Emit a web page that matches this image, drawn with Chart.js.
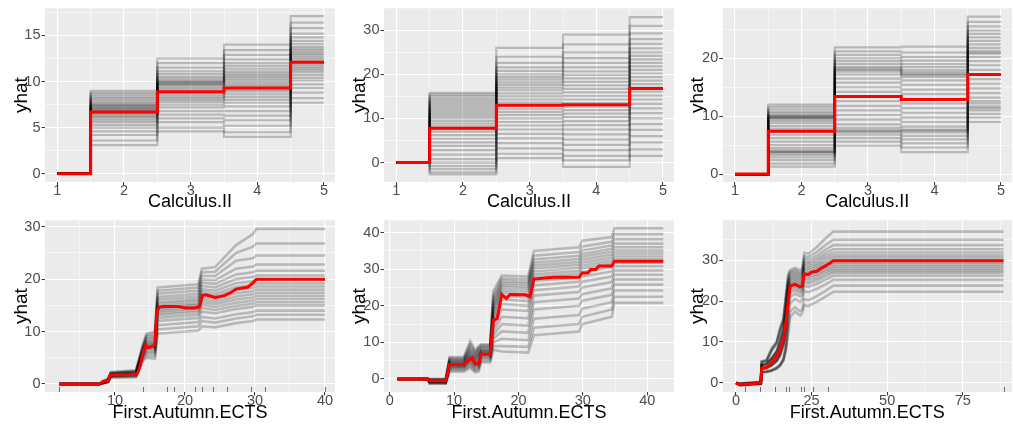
<!DOCTYPE html>
<html>
<head>
<meta charset="utf-8">
<script src="https://cdn.jsdelivr.net/npm/chart.js"></script>
<style>
  html, body { margin: 0; padding: 0; background: #ffffff; }
  #wrap { position: relative; width: 1013px; height: 428px; overflow: hidden; }
  #wrap canvas { position: absolute; }
</style>
</head>
<body>
<div id="wrap">
  <canvas id="c1" width="338" height="212" style="left:0px;top:0px"></canvas>
  <canvas id="c2" width="338" height="212" style="left:338px;top:0px"></canvas>
  <canvas id="c3" width="337" height="212" style="left:676px;top:0px"></canvas>
  <canvas id="c4" width="338" height="216" style="left:0px;top:212px"></canvas>
  <canvas id="c5" width="338" height="216" style="left:338px;top:212px"></canvas>
  <canvas id="c6" width="337" height="216" style="left:676px;top:212px"></canvas>
</div>
<script>
// ---- top row: Calculus.II (levels 1..5), one row of ICE values per level ----
const calcX = [1, 2, 3, 4, 5];
const calcXMajor = [1, 2, 3, 4, 5];
const calcXMinor = [1.5, 2.5, 3.5, 4.5];

const calcRowsA = [
  [0,0,0,0,0,0,0,0,0,0,0,0,0,0,0,0,0,0,0,0,0,0,0,0,0,0,0,0,0,0],
  [3.1,3.6,4.2,4.6,5.0,5.3,5.6,5.8,6.0,6.2,6.3,6.5,6.6,6.7,6.8,6.9,7.0,7.1,7.2,7.3,7.4,7.5,7.6,7.8,8.0,8.2,8.4,8.6,8.8,9.0],
  [4.6,5.0,5.6,6.0,6.4,6.8,7.2,7.5,7.8,8.0,8.2,8.4,8.6,8.8,9.0,9.2,9.4,9.6,9.7,9.8,9.9,10.0,10.1,10.3,10.5,10.8,11.1,11.5,12.0,12.5],
  [4.0,4.5,5.2,5.8,6.3,6.8,7.3,7.7,8.0,8.3,8.6,8.9,9.1,9.3,9.5,9.7,9.9,10.1,10.3,10.5,10.7,10.9,11.1,11.4,11.7,12.0,12.4,12.9,13.4,14.0],
  [7.7,8.2,8.8,9.3,9.7,10.1,10.4,10.7,11.0,11.2,11.4,11.6,11.8,12.0,12.2,12.4,12.6,12.8,13.0,13.2,13.4,13.6,13.8,14.1,14.4,14.8,15.2,15.8,16.4,17.1]
];
const calcMeanA = [0, 6.7, 8.9, 9.3, 12.1];
const calcYMajorA = [0, 5, 10, 15];
const calcYMinorA = [2.5, 7.5, 12.5, 17.5];

const calcRowsB = [
  [0,0,0,0,0,0,0,0,0,0,0,0,0,0,0,0,0,0,0,0,0,0,0,0,0,0,0,0,0,0],
  [-2.7,-2.2,-1.5,-0.8,0.0,0.8,1.8,2.8,3.8,4.6,5.4,6.2,7.0,7.6,8.2,8.8,9.4,10.0,10.5,11.0,11.5,12.0,12.5,13.0,13.5,14.0,14.5,15.0,15.4,15.8],
  [1.0,2.0,3.2,4.4,5.5,6.5,7.5,8.4,9.2,10.0,10.8,11.5,12.2,12.9,13.6,14.3,15.0,15.7,16.4,17.0,17.6,18.2,18.8,19.4,20.0,20.8,21.6,22.6,24.0,26.0],
  [-1.0,0.5,1.5,2.8,4.0,5.2,6.4,7.5,8.5,9.4,10.3,11.1,11.9,12.7,13.5,14.3,15.1,15.9,16.7,17.5,18.3,19.1,19.9,20.7,21.6,22.6,23.7,25.0,26.8,29.0],
  [1.5,3.0,4.6,6.0,7.4,8.7,10.0,11.2,12.3,13.3,14.3,15.2,16.1,17.0,17.8,18.6,19.4,20.2,21.0,21.8,22.6,23.4,24.2,25.0,25.9,26.9,28.0,29.3,31.0,33.0]
];
const calcMeanB = [0, 7.8, 13.0, 13.1, 16.8];
const calcYMajorB = [0, 10, 20, 30];
const calcYMinorB = [5, 15, 25];

const calcRowsC = [
  [0,0,0,0,0,0,0,0,0,0,0,0,0,0,0,0,0,0,0,0,0,0,0,0,0,0,0,0,0,0],
  [1.3,1.8,2.4,2.9,3.3,3.6,3.8,3.9,4.1,4.5,5.0,5.6,6.2,6.8,7.3,7.8,8.3,8.8,9.2,9.5,9.7,9.8,9.9,10.0,10.2,10.5,10.8,11.2,11.6,12.0],
  [4.9,5.6,6.2,6.8,7.2,7.4,7.6,8.0,8.6,9.4,10.2,11.0,11.8,12.6,13.4,14.2,15.0,15.8,16.5,17.2,17.7,18.0,18.2,18.5,19.0,19.5,20.0,20.6,21.2,21.9],
  [3.8,4.6,5.3,6.0,6.6,7.2,7.5,7.7,8.2,9.0,9.8,10.6,11.4,12.2,13.0,13.8,14.6,15.4,16.2,16.8,17.1,17.3,17.6,18.0,18.5,19.0,19.6,20.2,21.0,22.0],
  [9.0,9.8,10.4,11.0,11.4,11.7,12.2,12.6,13.2,14.0,14.8,15.6,16.4,17.2,18.0,18.8,19.5,20.2,20.8,21.0,21.3,21.8,22.4,23.0,23.6,24.2,24.8,25.5,26.3,27.2]
];
const calcMeanC = [0, 7.4, 13.4, 12.9, 17.2];
const calcYMajorC = [0, 10, 20];
const calcYMinorC = [5, 15, 25];

// ---- bottom row: First.Autumn.ECTS ----
const ectsGridA = [2, 7.8, 9.0, 9.4, 13.0, 14.0, 14.5, 15.7, 16.1, 21.9, 22.4, 24.3, 27.3, 29.7, 30.2, 40];
const ectsRowsA = [
  [0,0,0,0,0,0,0,0,0,0,0,0,0,0,0,0,0,0],
  [0,0,0,0,0,0,0,0,0,0,0,0,0,0,0,0,0,0],
  [0.3,0.3,0.4,0.4,0.5,0.5,0.5,0.6,0.6,0.6,0.7,0.7,0.7,0.8,0.8,0.9,0.9,1.0],
  [1.2,1.3,1.4,1.5,1.5,1.6,1.6,1.7,1.7,1.8,1.8,1.9,1.9,2.0,2.0,2.1,2.2,2.3],
  [1.3,1.4,1.5,1.6,1.7,1.8,1.8,1.9,1.9,2.0,2.0,2.1,2.1,2.2,2.3,2.4,2.5,2.6],
  [4.4,4.7,5.0,5.2,5.4,5.6,5.7,5.9,6.0,6.1,6.3,6.5,6.6,6.8,7.0,7.2,7.4,7.6],
  [5.0,5.4,5.8,6.1,6.4,6.7,6.9,7.1,7.3,7.5,7.7,7.9,8.1,8.4,8.7,9.0,9.3,9.6],
  [4.8,5.3,5.8,6.2,6.5,6.8,7.0,7.2,7.4,7.6,7.8,8.0,8.3,8.6,8.9,9.2,9.6,10.0],
  [9.6,10.4,11.2,12.0,12.6,13.1,13.5,13.9,14.2,14.5,14.8,15.2,15.6,16.1,16.6,17.2,17.8,18.4],
  [10.2,11.0,11.8,12.6,13.2,13.7,14.1,14.5,14.8,15.1,15.4,15.8,16.2,16.7,17.2,17.8,18.4,19.0],
  [11.0,12.0,12.8,13.8,14.5,15.1,15.6,16.1,16.6,17.1,17.6,18.1,18.7,19.3,19.9,20.6,21.3,22.0],
  [10.8,11.7,12.5,13.5,14.1,14.7,15.2,15.7,16.2,16.7,17.2,17.8,18.4,19.1,19.8,20.6,21.4,22.3],
  [11.6,12.5,13.3,14.3,14.9,15.5,16.1,16.7,17.3,17.9,18.5,19.2,20.0,20.9,22.0,23.5,25.0,26.5],
  [12.0,12.9,13.7,14.7,15.3,15.9,16.5,17.1,17.7,18.3,18.9,19.6,20.4,21.3,22.4,24.0,26.2,28.6],
  [12.3,13.2,14.0,15.0,15.6,16.2,16.8,17.4,18.0,18.6,19.2,19.9,20.7,21.6,22.8,24.5,26.8,29.6],
  [12.3,13.2,14.0,15.0,15.6,16.2,16.8,17.4,18.0,18.6,19.2,19.9,20.7,21.6,22.8,24.5,26.8,29.6]
];
const ectsMeanXA = [2, 7.8, 8.3, 9.0, 9.3, 12.8, 13.2, 13.6, 14.0, 14.4, 14.7, 15.4, 15.7, 16.0, 16.3, 17.0, 19.0, 20.0, 21.5, 22.1, 22.5, 23.0, 24.3, 25.5, 26.5, 27.3, 29.0, 29.7, 30.2, 40];
const ectsMeanA = [0, 0, 0.5, 0.6, 1.7, 1.8, 2.0, 3.5, 5.9, 7.4, 6.9, 7.2, 7.5, 13.7, 14.7, 14.8, 14.8, 14.5, 14.5, 14.8, 16.9, 17.0, 16.5, 16.8, 17.4, 18.1, 18.5, 19.3, 20.0, 20.0];
const ectsRugA = [2, 14, 17.5, 18.5, 21.5, 22.5, 24, 26, 29.5, 31.5, 40];
const ectsXMajorA = [10, 20, 30, 40];
const ectsXMinorA = [5, 15, 25, 35];
const ectsYMajorA = [0, 10, 20, 30];
const ectsYMinorA = [5, 15, 25];

const ectsGridB = [1.2, 5.9, 6.2, 8.7, 9.3, 11.5, 12.5, 13.3, 13.8, 14.2, 15.6, 16.1, 17.4, 21.5, 22.4, 29.4, 29.9, 34.5, 34.9, 42.5];
const ectsRowsB = [
  [0,0,0,0,0,0,0,0,0,0,0,0,0,0,0,0,0,0],
  [0,0,0,0,0,0,0,0,0,0,0,0,0,0,0,0,0,0],
  [-1.3,-1.2,-1.1,-1.0,-0.9,-0.8,-0.8,-0.7,-0.6,-0.5,-0.5,-0.4,-0.3,-0.3,-0.2,-0.1,0,0],
  [-1.3,-1.2,-1.1,-1.0,-0.9,-0.8,-0.8,-0.7,-0.6,-0.5,-0.5,-0.4,-0.3,-0.3,-0.2,-0.1,0,0],
  [2.0,2.4,2.7,3.0,3.2,3.4,3.6,3.8,4.0,4.2,4.4,4.6,4.8,5.0,5.2,5.4,5.7,6.0],
  [2.0,2.4,2.7,3.0,3.2,3.4,3.6,3.8,4.0,4.2,4.4,4.6,4.8,5.0,5.2,5.4,5.7,6.0],
  [3.0,3.5,4.0,4.4,4.8,5.1,5.4,5.7,6.0,6.3,6.6,7.0,7.4,7.8,8.3,8.9,9.6,10.4],
  [1.8,2.2,2.6,3.0,3.4,3.7,4.0,4.3,4.6,4.9,5.2,5.5,5.8,6.1,6.5,6.9,7.3,7.8],
  [2.0,2.5,3.0,3.4,3.8,4.2,4.6,5.0,5.4,5.8,6.2,6.6,7.0,7.4,7.8,8.2,8.6,9.0],
  [4.5,5.0,5.4,5.8,6.1,6.4,6.7,7.0,7.2,7.4,7.6,7.8,8.0,8.3,8.6,8.9,9.2,9.5],
  [4.5,5.0,5.4,5.8,6.1,6.4,6.7,7.0,7.2,7.4,7.6,7.8,8.0,8.3,8.6,8.9,9.2,9.5],
  [8.0,9.0,10.0,11.0,12.0,13.0,14.0,15.0,16.0,17.0,18.0,18.8,19.6,20.4,21.2,22.0,23.0,24.0],
  [7.5,9.0,11.0,13.0,15.0,17.0,19.0,20.5,21.8,22.8,23.6,24.3,25.0,25.6,26.2,26.8,27.5,28.3],
  [7.2,8.8,10.6,12.6,14.6,16.6,18.6,20.0,21.3,22.3,23.2,24.0,24.7,25.3,25.9,26.5,27.2,28.0],
  [12.0,14.0,16.5,19.0,21.0,22.8,24.3,25.6,26.8,27.8,28.6,29.4,30.2,31.0,31.8,32.7,33.7,35.0],
  [13.0,15.0,17.5,20.0,22.0,23.8,25.3,26.6,27.8,28.8,29.6,30.4,31.2,32.0,32.8,33.7,34.7,36.0],
  [15.0,17.0,19.2,21.4,23.2,25.0,26.6,28.0,29.2,30.2,31.0,31.8,32.6,33.4,34.2,35.1,36.2,37.8],
  [17.0,19.0,21.0,23.0,24.8,26.5,28.0,29.4,30.6,31.6,32.4,33.2,34.0,34.8,35.6,36.5,37.5,38.8],
  [20.8,22.5,24.2,25.8,27.2,28.5,29.7,30.8,31.8,32.7,33.5,34.3,35.1,36.0,37.0,38.2,39.6,41.2],
  [20.8,22.5,24.2,25.8,27.2,28.5,29.7,30.8,31.8,32.7,33.5,34.3,35.1,36.0,37.0,38.2,39.6,41.2]
];
const ectsMeanXB = [1.2, 5.9, 6.2, 8.7, 9.3, 11.5, 12.5, 12.8, 13.3, 13.8, 14.2, 15.6, 16.1, 16.7, 17.4, 18.1, 18.7, 21.1, 21.8, 22.4, 25.5, 29.4, 29.9, 30.8, 31.2, 32.0, 32.5, 34.5, 34.9, 42.5];
const ectsMeanB = [0, 0, -0.5, -0.5, 4.0, 4.0, 5.4, 5.8, 4.1, 4.1, 6.8, 6.8, 16.1, 16.5, 23.1, 22.0, 23.1, 23.0, 22.5, 27.3, 27.8, 27.8, 29.0, 29.0, 29.9, 29.9, 30.9, 30.9, 32.2, 32.2];
const ectsXMajorB = [0, 10, 20, 30, 40];
const ectsXMinorB = [5, 15, 25, 35];
const ectsYMajorB = [0, 10, 20, 30, 40];
const ectsYMinorB = [5, 15, 25, 35];

const ectsGridC = [0, 1.3, 8.2, 8.5, 10.1, 11.8, 13.5, 14.6, 15.7, 16.5, 17.3, 17.9, 19.5, 21.2, 21.9, 22.6, 23.9, 26.7, 29.4, 32.2, 88.5];
const ectsRowsC = [
  [0,0,0,0,0,0,0,0,0,0,0,0,0,0,0,0,0,0],
  [-0.6,-0.6,-0.5,-0.5,-0.5,-0.4,-0.4,-0.4,-0.4,-0.4,-0.3,-0.3,-0.3,-0.3,-0.2,-0.2,-0.2,-0.1],
  [-0.3,-0.2,-0.2,-0.1,-0.1,0,0,0,0,0,0,0,0.1,0.1,0.1,0.2,0.2,0.3],
  [2.6,2.6,2.7,2.7,3.4,3.4,3.5,3.5,3.6,4.2,4.3,4.3,4.4,4.4,5.0,5.1,5.2,5.3],
  [2.7,2.7,2.8,2.8,3.6,3.6,3.7,3.7,3.8,4.5,4.6,4.6,4.7,4.7,5.3,5.4,5.5,5.6],
  [3.0,3.0,3.1,3.1,4.3,4.3,4.4,4.4,4.5,5.8,5.9,5.9,6.0,6.1,7.8,8.0,8.2,8.5],
  [3.5,3.6,3.7,3.8,5.3,5.4,5.5,5.6,5.7,7.5,7.6,7.7,7.8,7.9,9.6,9.8,10.0,10.2],
  [4.2,4.3,4.4,4.5,6.6,6.8,7.0,7.2,7.4,9.6,9.8,10.0,10.2,10.4,12.6,12.9,13.2,13.5],
  [5.5,5.6,5.8,6.0,9.0,9.3,9.6,9.9,10.2,12.5,12.8,13.1,13.4,13.7,15.0,15.3,15.6,16.0],
  [8.0,8.3,8.7,9.1,12.5,13.0,13.5,14.0,14.5,16.5,17.0,17.5,18.0,18.5,20.0,20.5,21.0,21.5],
  [12.0,13.5,15.5,17.5,19.0,20.0,20.8,21.5,22.1,22.6,23.1,23.6,24.1,24.6,25.1,25.6,26.2,26.8],
  [16.0,17.5,19.5,21.0,22.0,22.7,23.2,23.6,24.0,24.4,24.8,25.2,25.6,26.0,26.4,26.8,27.2,27.6],
  [17.5,18.5,20.5,21.8,22.6,23.2,23.7,24.1,24.5,24.9,25.3,25.7,26.1,26.5,26.9,27.3,27.7,28.2],
  [16.5,17.5,19.8,21.2,22.0,22.6,23.1,23.5,23.9,24.3,24.7,25.1,25.5,25.9,26.3,26.7,27.1,27.6],
  [17.0,18.0,20.2,21.5,22.3,22.9,23.4,23.8,24.2,24.6,25.0,25.4,25.8,26.2,26.6,27.0,27.4,28.0],
  [19.0,20.5,22.5,23.8,24.6,25.2,25.8,26.3,26.8,27.3,27.8,28.3,28.8,29.3,29.8,30.4,31.0,31.8],
  [18.8,20.2,22.2,23.5,24.3,24.9,25.5,26.0,26.5,27.0,27.5,28.0,28.5,29.0,29.5,30.1,30.8,31.6],
  [19.8,21.2,23.0,24.2,25.0,25.6,26.2,26.7,27.2,27.7,28.2,28.7,29.2,29.8,30.4,31.1,32.0,33.2],
  [21.0,22.4,24.0,25.2,26.0,26.6,27.2,27.7,28.2,28.7,29.2,29.8,30.4,31.0,31.7,32.5,33.6,35.2],
  [22.3,23.8,25.2,26.2,26.9,27.4,27.9,28.4,28.9,29.4,30.0,30.6,31.2,31.9,32.7,33.7,35.0,37.0],
  [22.3,23.8,25.2,26.2,26.9,27.4,27.9,28.4,28.9,29.4,30.0,30.6,31.2,31.9,32.7,33.7,35.0,37.0]
];
const ectsMeanXC = [0, 1.3, 8.2, 8.5, 10.1, 11.8, 13.5, 14.6, 15.7, 16.5, 17.3, 17.9, 19.5, 21.2, 21.9, 22.6, 23.9, 25.0, 26.7, 28.3, 29.4, 31.1, 32.2, 88.5];
const ectsMeanC = [0, -0.4, 0, 3.6, 3.8, 5.0, 6.6, 8.2, 10.6, 14.6, 20.1, 23.7, 24.1, 23.5, 23.7, 26.7, 26.5, 27.1, 27.3, 28.1, 28.5, 29.3, 29.9, 29.9];
const ectsRugC = [3, 8, 13, 16.5, 17.5, 21.5, 22.5, 25.5, 30.5, 88.5];
const ectsXMajorC = [0, 25, 50, 75];
const ectsXMinorC = [12.5, 37.5, 62.5, 87.5];
const ectsYMajorC = [0, 10, 20, 30];
const ectsYMinorC = [5, 15, 25, 35];

// ---- drawing ----
const FONT = "'Liberation Sans', Arial, sans-serif";

const panelBg = {
  id: 'panelBg',
  beforeDraw(chart) {
    const a = chart.chartArea, ctx = chart.ctx;
    ctx.save();
    ctx.fillStyle = '#EBEBEB';
    ctx.fillRect(a.left, a.top, a.right - a.left, a.bottom - a.top);
    ctx.restore();
  }
};

function rugPlugin(values) {
  return {
    id: 'rug',
    afterDatasetsDraw(chart) {
      if (!values) return;
      const ctx = chart.ctx, xs = chart.scales.x, b = chart.chartArea.bottom;
      ctx.save();
      ctx.strokeStyle = 'rgba(60,60,60,0.7)';
      ctx.lineWidth = 1;
      values.forEach(v => {
        const px = Math.round(xs.getPixelForValue(v)) + 0.5;
        ctx.beginPath();
        ctx.moveTo(px, b);
        ctx.lineTo(px, b - 5);
        ctx.stroke();
      });
      ctx.restore();
    }
  };
}

function makeAxis(min, max, major, minor, title, isX, size, titlePad) {
  const all = major.concat(minor).sort((a, b) => a - b);
  const isMajor = v => major.indexOf(v) >= 0;
  return {
    type: 'linear',
    min: min,
    max: max,
    afterBuildTicks: s => { s.ticks = all.map(v => ({ value: v })); },
    afterFit: s => { if (isX) s.height = size; else s.width = size; },
    grid: {
      color: '#FFFFFF',
      lineWidth: c => (c.tick && isMajor(c.tick.value)) ? 1.1 : 0.5,
      tickColor: c => (c.tick && isMajor(c.tick.value)) ? '#333333' : 'rgba(0,0,0,0)',
      tickWidth: 1,
      tickLength: 3.5
    },
    border: { display: false },
    ticks: {
      autoSkip: false,
      maxRotation: 0,
      padding: isX ? -1.8 : 1,
      color: '#4D4D4D',
      font: { family: FONT, size: 14.5, lineHeight: 1 },
      callback: v => isMajor(v) ? String(v) : ''
    },
    title: {
      display: true,
      text: title,
      color: '#000000',
      font: { family: FONT, size: isX ? 18 : 19, lineHeight: 1 },
      padding: titlePad
    }
  };
}

function iceSets(xs, rows, stepped, width) {
  const sets = [];
  for (let i = 0; i < rows[0].length; i++) {
    sets.push({
      data: xs.map((x, j) => ({ x: x, y: rows[j][i] })),
      borderColor: 'rgba(0,0,0,0.22)',
      borderWidth: width,
      pointRadius: 0,
      stepped: stepped,
      fill: false
    });
  }
  return sets;
}

function meanSet(xs, ys, stepped) {
  return {
    data: xs.map((x, j) => ({ x: x, y: ys[j] })),
    borderColor: '#FF0000',
    borderWidth: 3,
    pointRadius: 0,
    stepped: stepped,
    fill: false
  };
}

function drawPanel(p) {
  const top = p.row === 0;
  // Chart.js paints the first dataset last, so the red mean goes first to sit on top
  const datasets = [meanSet(p.mx, p.my, p.stepped)].concat(iceSets(p.gx, p.rows, p.stepped, top ? 2.2 : 2.6));
  new Chart(document.getElementById(p.id), {
    type: 'line',
    data: { datasets: datasets },
    plugins: [panelBg, rugPlugin(p.rug)],
    options: {
      responsive: false,
      animation: false,
      parsing: false,
      normalized: true,
      layout: { padding: { top: top ? 6 : 3.3, right: p.right, left: 0, bottom: 0 } },
      plugins: { legend: { display: false }, tooltip: { enabled: false } },
      scales: {
        x: makeAxis(p.xr[0], p.xr[1], p.xMajor, p.xMinor, p.xTitle, true, top ? 30 : 36, { top: 0, bottom: top ? 0.5 : 5.5 }),
        y: makeAxis(p.yr[0], p.yr[1], p.yMajor, p.yMinor, 'yhat', false, p.left, { top: 12, bottom: 0 })
      }
    }
  });
}

[
  { id: 'c1', row: 0, left: 45, right: 3, gx: calcX, rows: calcRowsA, mx: calcX, my: calcMeanA, stepped: 'middle', rug: null,
    xr: [0.815, 5.165], yr: [-0.9, 17.95], xMajor: calcXMajor, xMinor: calcXMinor, yMajor: calcYMajorA, yMinor: calcYMinorA, xTitle: 'Calculus.II' },
  { id: 'c2', row: 0, left: 46, right: 2, gx: calcX, rows: calcRowsB, mx: calcX, my: calcMeanB, stepped: 'middle', rug: null,
    xr: [0.815, 5.165], yr: [-4.41, 35.0], xMajor: calcXMajor, xMinor: calcXMinor, yMajor: calcYMajorB, yMinor: calcYMinorB, xTitle: 'Calculus.II' },
  { id: 'c3', row: 0, left: 46.7, right: 1, gx: calcX, rows: calcRowsC, mx: calcX, my: calcMeanC, stepped: 'middle', rug: null,
    xr: [0.815, 5.165], yr: [-1.36, 28.64], xMajor: calcXMajor, xMinor: calcXMinor, yMajor: calcYMajorC, yMinor: calcYMinorC, xTitle: 'Calculus.II' },
  { id: 'c4', row: 1, left: 45, right: 3, gx: ectsGridA, rows: ectsRowsA, mx: ectsMeanXA, my: ectsMeanA, stepped: false, rug: ectsRugA,
    xr: [0, 41.43], yr: [-1.54, 31.24], xMajor: ectsXMajorA, xMinor: ectsXMinorA, yMajor: ectsYMajorA, yMinor: ectsYMinorA, xTitle: 'First.Autumn.ECTS' },
  { id: 'c5', row: 1, left: 46, right: 2, gx: ectsGridB, rows: ectsRowsB, mx: ectsMeanXB, my: ectsMeanB, stepped: false, rug: null,
    xr: [-0.89, 44.16], yr: [-3.55, 43.39], xMajor: ectsXMajorB, xMinor: ectsXMinorB, yMajor: ectsYMajorB, yMinor: ectsYMinorB, xTitle: 'First.Autumn.ECTS' },
  { id: 'c6', row: 1, left: 46.7, right: 1, gx: ectsGridC, rows: ectsRowsC, mx: ectsMeanXC, my: ectsMeanC, stepped: false, rug: ectsRugC,
    xr: [-4.4, 91.3], yr: [-2.22, 39.78], xMajor: ectsXMajorC, xMinor: ectsXMinorC, yMajor: ectsYMajorC, yMinor: ectsYMinorC, xTitle: 'First.Autumn.ECTS' }
].forEach(drawPanel);
</script>
</body>
</html>
